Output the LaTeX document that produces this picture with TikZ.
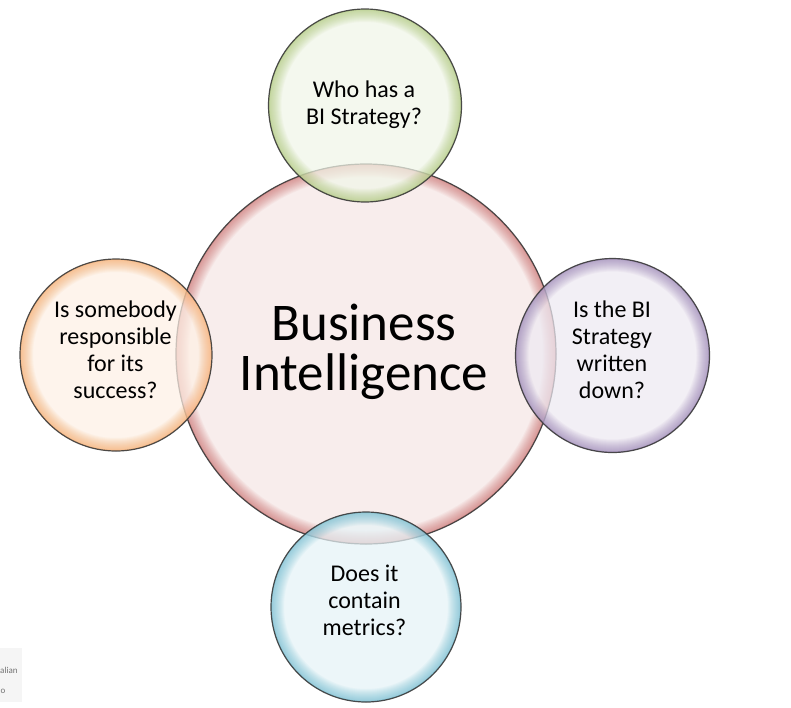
\documentclass[tikz,border=0pt]{standalone}
\usepackage{fontspec}
\setmainfont{Carlito}
\definecolor{accRed}{HTML}{C0504D}
\definecolor{accGreen}{HTML}{9BBB59}
\definecolor{accOrange}{HTML}{F79646}
\definecolor{accPurple}{HTML}{8064A2}
\definecolor{accBlue}{HTML}{4BACC6}
\definecolor{rimline}{HTML}{3A3A3A}
\tikzset{
  bubbleout/.style={circle, draw=rimline, line width=1.2pt, inner sep=0pt, draw opacity=0.9},
  smalltxt/.style={align=center, font=\fontsize{24}{27}\selectfont, inner sep=0pt},
  bigtxt/.style={align=center, font=\fontsize{53}{50}\selectfont, inner sep=0pt},
  logotxt/.style={font=\fontsize{9}{11}\selectfont, text=black!55, inner sep=0pt},
}
% #1 name, #2 centre, #3 radius (pt), #4 accent colour
\newcommand\glowbubble[4]{%
  \fill[#4!14, fill opacity=0.72] (#2) circle (#3pt);
  \begin{scope}
    \clip (#2) circle (#3pt);
    \foreach \w in {26,24,...,2}
      \draw[#4, line width=\w pt, opacity=0.05] (#2) circle (#3pt);
    \draw[#4, line width=2pt, opacity=0.25] (#2) circle (#3pt);
  \end{scope}
  \node[bubbleout, minimum size={2*#3pt}] (#1) at (#2) {};
}
\begin{document}
\begin{tikzpicture}[x=1pt, y=-1pt]
  \useasboundingbox (0,0) rectangle (791,707);
  \fill[white] (0,0) rectangle (791,707);
  % faint logo fragment bottom-left
  \fill[black!4] (0,648) rectangle (22,702);
  \node[logotxt, anchor=base west] (logoA) at (0,673) {alian};
  \node[logotxt, anchor=base west] (logoB) at (0.5,693) {o};
  % bubbles
  \glowbubble{core}{366,354}{190}{accRed}
  \glowbubble{ctop}{365,105.5}{96.5}{accGreen}
  \glowbubble{cleft}{116,355}{96}{accOrange}
  \glowbubble{cright}{612.5,355.5}{97}{accPurple}
  \glowbubble{cbottom}{366,607}{95}{accBlue}
  % texts
  \node[bigtxt] (bi) at (364,352) {Business\\Intelligence};
  \node[smalltxt] (ttop) at (364,104.5) {Who has a\\BI Strategy?};
  \node[smalltxt] (tleft) at (115.5,350) {Is somebody\\responsible\\for its\\success?};
  \node[smalltxt] (tright) at (612,350) {Is the BI\\Strategy\\written\\down?};
  \node[smalltxt] (tbottom) at (364.5,600) {Does it\\contain\\metrics?};
\end{tikzpicture}
\end{document}
